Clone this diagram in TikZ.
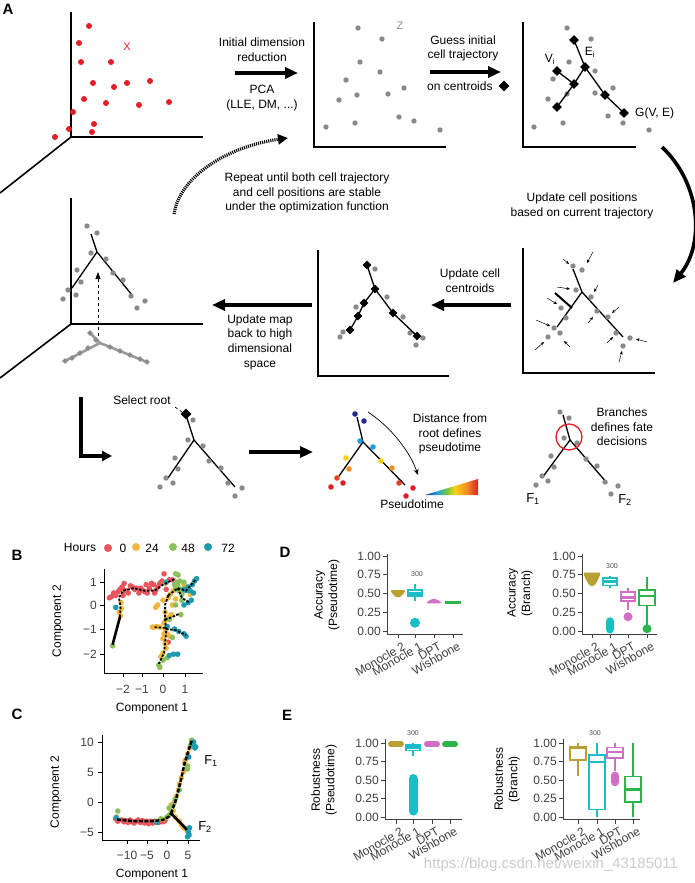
\documentclass[tikz,border=0pt]{standalone}
\usepackage{fontspec}
\setmainfont{Liberation Sans}
\usetikzlibrary{arrows.meta,shapes.geometric}
\definecolor{dotgray}{RGB}{138,138,138}
\definecolor{cred}{RGB}{230,30,40}
\definecolor{h0}{RGB}{232,85,90}
\definecolor{h24}{RGB}{243,182,60}
\definecolor{h48}{RGB}{140,192,90}
\definecolor{h72}{RGB}{30,155,175}
\definecolor{cgold}{RGB}{185,160,50}
\definecolor{cteal}{RGB}{25,190,200}
\definecolor{cpink}{RGB}{210,110,195}
\definecolor{cgreen}{RGB}{45,180,75}
\definecolor{pnavy}{RGB}{40,40,140}
\definecolor{pcyan}{RGB}{30,160,220}
\definecolor{pyel}{RGB}{245,210,20}
\definecolor{pora}{RGB}{243,145,35}
\definecolor{pred}{RGB}{225,30,40}
\definecolor{pgrn}{RGB}{120,200,60}
\pgfdeclarehorizontalshading{rainbowsh}{100bp}{color(0bp)=(pnavy); color(25bp)=(pnavy); color(36bp)=(pcyan); color(46bp)=(pgrn); color(53bp)=(pyel); color(64bp)=(pora); color(75bp)=(pred); color(100bp)=(pred)}
\newcommand\mybox[8]{% x, wlo, q1, med, q3, whi, color, halfwidth
  \draw[#7, line width=1.5pt] (#1,#2)--(#1,#3) (#1,#5)--(#1,#6);
  \draw[#7, line width=1.5pt, fill=white] ({#1-#8},#3) rectangle ({#1+#8},#5);
  \draw[#7, line width=2.5pt] ({#1-#8},#4)--({#1+#8},#4);}
\tikzset{
  axis/.style={line width=1.6pt, black},
  treeln/.style={line width=1.3pt, black},
  bigarrow/.style={line width=3.6pt, -{Triangle[length=13pt,width=11pt]}},
  dia/.style={diamond, fill=black, inner sep=0pt, minimum size=10pt},
  smalldia/.style={diamond, fill=black, inner sep=0pt, minimum size=9pt},
  lbl/.style={font=\fontsize{12}{14.6}\selectfont, align=center, inner sep=0pt},
  panel/.style={font=\fontsize{15}{15}\selectfont\bfseries, inner sep=0pt},
  tick/.style={font=\fontsize{12}{12}\selectfont, text=black!75, inner sep=0pt},
  axl/.style={line width=0.8pt, black!75},
  bpath/.style={black, line width=1.8pt, dash pattern=on 2.5pt off 1.5pt},
  cpath/.style={black, line width=2.5pt, dash pattern=on 4pt off 1.5pt},
  sarr/.style={line width=0.5pt, -{Stealth[length=3.5pt,width=3pt]}},
  xlab/.style={font=\fontsize{12}{12}\selectfont, text=black!75, inner sep=0pt, rotate=30, anchor=north east}
}
\begin{document}
\begin{tikzpicture}[x=1pt,y=-1pt]
\useasboundingbox[fill=white] (0,0) rectangle (694,883);

% ================= PANEL A =================
\node[panel] (lA) at (8,9) {A};

% --- plot 1: high-dimensional ---
\draw[axis] (71,12)--(71,137)--(203,137);
\draw[axis] (71,137)--(0,193);
\foreach \p in {(89,26),(79,43),(81,62),(111,62),(93,83),(114,87),(127,83),(150,81),(84,99),(106,103),(139,105),(169,102),(73,112),(94,124),(69,129),(92,132),(55,137)}
  \fill[cred] \p circle (3pt);
\node[font=\fontsize{11}{11}\selectfont, text=cred, inner sep=0pt] (xl) at (127,47) {X};

% arrow 1
\coordinate (a1s) at (235,73); \coordinate (a1e) at (298,73);
\draw[bigarrow] (a1s)--(a1e);
\node[lbl] (t1) at (262,49.5) {Initial dimension\\reduction};
\node[lbl] (t2) at (262,98) {PCA\\(LLE, DM, ...)};

% --- plot 2 ---
\draw[axis] (314,22)--(314,147)--(446,147);
\foreach \p in {(358,28),(382,39),(360,62),(380,72),(346,80),(357,95),(388,94),(404,88),(339,100),(326,127),(355,123),(399,117),(414,121),(440,130)}
  \fill[dotgray] \p circle (2.7pt);
\node[font=\fontsize{11}{11}\selectfont, text=black!45, inner sep=0pt] (zl) at (400,26) {Z};

% arrow 2
\coordinate (a2s) at (430,72); \coordinate (a2e) at (501,72);
\draw[bigarrow] (a2s)--(a2e);
\node[lbl] (t3) at (463,48.5) {Guess initial\\cell trajectory};
\node[lbl, anchor=west] (t4) at (427,86) {on centroids};
\node[dia, minimum size=11pt] (cdia) at (504,86) {};

% --- plot 3 ---
\draw[axis] (523,22)--(523,147)--(636,147);
\foreach \p in {(567,28),(591,39),(569,62),(595,71),(553,79),(613,88),(595,93),(548,99),(567,94),(608,116),(563,123),(623,123),(534,127),(649,130)}
  \fill[dotgray] \p circle (2.7pt);
\coordinate (v1) at (574,40); \coordinate (v2) at (585,67); \coordinate (v3) at (557,71);
\coordinate (v4) at (574,84); \coordinate (v5) at (605,95); \coordinate (v6) at (557,107);
\coordinate (v7) at (624,113);
\draw[treeln] (v1)--(v2)--(v5)--(v7) (v2)--(v4)--(v6) (v3)--(v4);
\foreach \n in {v1,v2,v3,v4,v5,v6,v7} \node[dia] at (\n) {};
\node[lbl] (vi) at (550,59) {V\textsubscript{i}};
\node[lbl] (ei) at (590,52) {E\textsubscript{i}};
\node[lbl, anchor=west] (gve) at (635,113) {G(V, E)};

% big curved arrow right
\coordinate (c1s) at (662,147); \coordinate (c1e) at (673,283);
\draw[bigarrow] (c1s) .. controls (702,185) and (704,245) .. (c1e);

% dotted repeat arrow
\coordinate (d1s) at (174,214); \coordinate (d1e) at (288,138);
\draw[line width=3.2pt, dash pattern=on 1.1pt off 1.0pt, -{Triangle[length=10pt,width=10pt]}] (d1s) .. controls (180,175) and (230,146) .. (d1e);
\node[lbl] (t5) at (307,193) {Repeat until both cell trajectory\\and cell positions are stable\\under the optimization function};

\node[lbl] (t6) at (582,206) {Update cell positions\\based on current trajectory};

% --- plot 4 (update positions) ---
\draw[axis] (523,248)--(523,373)--(655,373);
\draw[treeln] (573,269)--(582,292)--(557,327) (582,292)--(623,337);
\draw[line width=2pt] (555,293)--(572,308);
\foreach \p in {(573,266),(582,270),(576,290),(591,297),(561,308),(566,318),(597,311),(608,317),(554,328),(560,333),(548,337),(616,333),(630,338),(623,346)}
  \fill[dotgray] \p circle (2.7pt);
\draw[sarr] (563,259)--(569,264);
\draw[sarr] (593,252)--(587,263);
\draw[sarr] (557,287)--(570,289);
\draw[sarr] (598,285)--(594,292);
\draw[sarr] (547,298)--(557,304);
\draw[sarr] (536,320)--(550,326);
\draw[sarr] (588,323)--(593,317);
\draw[sarr] (619,307)--(612,313);
\draw[sarr] (535,350)--(544,342);
\draw[sarr] (570,347)--(564,341);
\draw[sarr] (607,343)--(613,337);
\draw[sarr] (647,342)--(636,339);
\draw[sarr] (619,362)--(622,351);

% arrow update centroids
\coordinate (a3s) at (511,305); \coordinate (a3e) at (431,305);
\draw[bigarrow] (a3s)--(a3e);
\node[lbl] (t7) at (470,280.5) {Update cell\\centroids};

% --- plot 5 (centroids) ---
\draw[axis] (318,250)--(318,376)--(449,376);
\coordinate (w1) at (367,265); \coordinate (w2) at (375,289); \coordinate (w3) at (364,303);
\coordinate (w4) at (358,316); \coordinate (w5) at (350,330); \coordinate (w6) at (393,313);
\coordinate (w7) at (417,336);
\foreach \p in {(375,269),(387,297),(356,307),(403,317),(343,332),(340,337),(410,333),(423,338),(416,345)}
  \fill[dotgray] \p circle (2.7pt);
\draw[treeln] (w1)--(w2)--(w3)--(w4)--(w5) (w2)--(w6)--(w7);
\foreach \n in {w1,w2,w3,w4,w5,w6,w7} \node[smalldia] at (\n) {};

% arrow update map
\coordinate (a4s) at (312,305); \coordinate (a4e) at (212,305);
\draw[bigarrow] (a4s)--(a4e);
\node[lbl] (t8) at (260,342) {Update map\\back to high\\dimensional\\space};

% --- plot 6 (3D back-mapped) ---
\draw[axis] (71,198)--(71,324)--(203,324);
\draw[axis] (71,324)--(0,378);
% shadow
\draw[line width=2.6pt, black!40, line cap=round] (90,333)--(100,343)--(65,361) (100,343)--(147,362);
\foreach \p in {(90,333),(96,340),(88,348),(80,353),(72,358),(110,347),(120,351),(130,355),(140,359),(147,362),(65,361)}
  \node[diamond, fill=black!45, inner sep=0pt, minimum size=6pt] at \p {};
\draw[treeln] (91,234)--(97,252)--(72,288) (97,252)--(132,295);
\foreach \p in {(87,226),(97,233),(91,253),(106,259),(77,270),(113,273),(123,280),(81,282),(68,290),(76,295),(63,299),(131,296),(145,301),(137,308)}
  \fill[dotgray] \p circle (2.7pt);
\coordinate (dvs) at (98,336); \coordinate (dve) at (98,272);
\draw[dashed, line width=0.7pt, -{Triangle[length=7pt,width=5pt]}] (dvs)--(dve);

% --- bottom row ---
\coordinate (la1) at (81,397); \coordinate (la2) at (81,456); \coordinate (la3) at (112,456);
\draw[line width=3.4pt, -{Triangle[length=10pt,width=10pt]}] (la1)--(la2)--(la3);

\node[lbl] (sr) at (142,400) {Select root};
\draw[dashed, line width=0.7pt] (175,407)--(182,412);
\draw[treeln] (186,415)--(194,440)--(168,478) (194,440)--(235,487);
\foreach \p in {(193,420),(188,440),(203,446),(175,458),(209,461),(178,469),(221,468),(166,478),(173,483),(160,487),(228,483),(242,488),(235,496)}
  \fill[dotgray] \p circle (2.7pt);
\node[dia, minimum size=11pt] (root) at (186,414) {};

\coordinate (a5s) at (249,452); \coordinate (a5e) at (313,452);
\draw[bigarrow] (a5s)--(a5e);

% pseudotime tree
\draw[treeln] (357,417)--(363,442)--(339,476) (363,442)--(405,485);
\foreach \p in {(355,414),(364,421)} \fill[pnavy] \p circle (2.8pt);
\foreach \p in {(360,441),(373,447)} \fill[pcyan] \p circle (2.8pt);
\foreach \p in {(346,458),(381,461)} \fill[pyel] \p circle (2.8pt);
\foreach \p in {(349,469),(392,468)} \fill[pora] \p circle (2.8pt);
\foreach \p in {(337,478),(399,483)} \fill[pred!70!pora] \p circle (2.8pt);
\foreach \p in {(343,483),(331,487),(413,488),(406,496)} \fill[pred] \p circle (2.8pt);
\coordinate (pas) at (368,412); \coordinate (pae) at (418,475);
\draw[line width=0.7pt, -{Stealth[length=6pt,width=5pt]}] (pas) .. controls (392,428) and (410,452) .. (pae);
\node[lbl] (t9) at (450,434) {Distance from\\root defines\\pseudotime};
\shade[shading=rainbowsh] (425,495)--(478,479)--(478,495)--cycle;
\node[lbl] (t10) at (412,504) {Pseudotime};

% branches panel
\draw[treeln] (563,415)--(570,440)--(542,478) (570,440)--(607,483);
\foreach \p in {(560,412),(569,418),(564,438),(577,443),(551,456),(586,459),(554,467),(597,466),(542,476),(548,481),(536,485),(605,482),(618,486),(611,494)}
  \fill[dotgray] \p circle (2.7pt);
\draw[cred, line width=1.3pt] (569,437) circle (13pt);
\node[lbl] (t11) at (622,427) {Branches\\defines fate\\decisions};
\node[lbl, font=\fontsize{13}{13}\selectfont] (f1) at (533,499) {F\textsubscript{1}};
\node[lbl, font=\fontsize{13}{13}\selectfont] (f2) at (625,500) {F\textsubscript{2}};

% ================= PANEL B =================
\node[panel] (lB) at (17,555) {B};
\node[lbl] (hrs) at (80,547) {Hours};
\fill[h0] (108,548) circle (4pt); \node[lbl] (l0) at (123,548) {0};
\fill[h24] (136,547) circle (4pt); \node[lbl] (l24) at (152,548) {24};
\fill[h48] (173,547) circle (4pt); \node[lbl] (l48) at (188,548) {48};
\fill[h72] (208,547) circle (4pt); \node[lbl] (l72) at (228,548) {72};

\draw[line width=1pt] (104,569)--(104,673)--(203,673);
\foreach \yy in {582,605,629,654} \draw[line width=0.8pt] (100,\yy)--(104,\yy);
\node[tick, anchor=east] at (97,582) {1};
\node[tick, anchor=east] at (97,605) {0};
\node[tick, anchor=east] at (97,629) {−1};
\node[tick, anchor=east] at (97,654) {−2};
\foreach \xx in {123,142,163,185} \draw[line width=0.8pt] (\xx,673)--(\xx,677);
\node[tick] at (123,689) {−2};
\node[tick] at (142,689) {−1};
\node[tick] at (163,689) {0};
\node[tick] at (185,689) {1};
\node[lbl, rotate=90] (bc2) at (58,621) {Component 2};
\node[lbl] (bc1) at (152,709) {Component 1};

\begin{scope}[shift={(163,605)}, x=21pt, y=24pt]
\foreach \p in {(-2.55,0.3),(-2.45,0.35),(-2.35,0.5),(-2.25,0.4),(-2.15,0.55),(-2.05,0.65),(-1.95,0.75),(-1.85,0.9),(-1.8,0.6),(-1.65,0.5),(-1.55,0.8),(-1.45,0.75),(-1.35,0.65),(-1.25,0.7),(-1.15,0.5),(-1.05,0.7),(-0.95,0.6),(-0.85,0.55),(-0.75,0.5),(-0.65,0.7),(-0.55,0.9),(-0.45,0.85),(-0.35,0.6),(-0.25,0.75),(-0.15,0.9),(-0.05,1.0),(0.05,1.3),(0.15,0.65),(0.3,1.05),(0.25,-1.55),(0.45,1.05),(-0.4,0.5),(-1.9,0.4),(-0.8,0.85)}
  \fill[h0] \p circle (2.8pt);
\foreach \p in {(-2.0,0.1),(-1.98,-0.15),(-2.03,-0.45),(-2.08,-0.3),(-0.35,-0.1),(-0.25,0.0),(0.0,0.2),(0.1,-0.3),(0.15,-0.6),(0.05,-0.75),(0.2,-0.9),(-0.5,-0.92),(-0.4,-0.92),(-0.3,-0.9),(-0.15,-0.92),(0.1,-1.0),(0.2,-1.2),(0.0,-1.4),(0.1,-1.6),(0.15,-1.8),(0.0,-2.0),(-0.1,-2.15),(0.3,-0.5),(0.4,-0.4),(0.5,0.6),(0.35,0.45),(0.25,0.3),(0.6,0.25),(1.0,0.85),(1.3,0.45),(0.1,0.9),(0.05,-1.2),(0.3,-1.3),(0.45,0.0)}
  \fill[h24] \p circle (2.8pt);
\foreach \p in {(-2.4,-1.7),(0.6,1.3),(0.72,1.25),(0.8,1.0),(0.7,0.8),(0.6,0.7),(0.85,0.65),(0.9,0.45),(1.0,0.95),(1.1,0.7),(0.9,0.2),(0.6,0.0),(0.85,-0.4),(0.3,-0.6),(0.45,-1.35),(0.2,-2.2),(0.0,-2.3),(-0.2,-2.5),(-0.15,-2.6),(0.65,0.95),(0.55,0.85),(0.75,0.6)}
  \fill[h48] \p circle (2.8pt);
\foreach \p in {(-2.25,-0.1),(0.15,0.95),(1.1,0.6),(1.2,0.75),(1.3,0.6),(1.4,0.85),(1.5,1.0),(1.6,1.1),(1.35,0.2),(1.2,0.1),(1.0,0.0),(0.2,-0.9),(0.55,-1.0),(0.75,-1.1),(1.0,-1.2),(1.1,-1.3),(0.3,-2.1),(0.5,-2.05),(0.7,-2.05),(1.45,0.5),(1.0,0.65)}
  \fill[h72] \p circle (2.8pt);
\draw[line width=2.6pt] (-2.4,-1.65)--(-2.05,-0.5);
\draw[bpath] (-2.05,-0.5)--(-2.02,-0.05)--(-2.1,0.3)--(-1.9,0.6)--(-1.4,0.7)--(-0.9,0.6)--(-0.4,0.6)--(0.0,0.85)--(0.35,1.0)--(0.6,1.1);
\draw[bpath] (0.25,0.4)--(0.1,0.0)--(0.1,-0.6)--(0.15,-1.1)--(0.1,-1.6)--(0.05,-2.0)--(-0.2,-2.45);
\draw[bpath] (0.25,0.4)--(0.7,0.7)--(1.1,0.6)--(1.55,1.05);
\draw[bpath] (0.7,0.7)--(0.9,0.3)--(1.25,0.1);
\draw[bpath] (0.1,-0.6)--(0.45,-0.5)--(0.8,-0.35);
\draw[bpath] (0.15,-1.0)--(0.6,-1.05)--(1.1,-1.25);
\draw[bpath] (0.1,-0.95)--(-0.45,-0.92);
\end{scope}

% ================= PANEL C =================
\node[panel] (lC) at (17,714) {C};
\draw[line width=1pt] (102,735)--(102,840)--(200,840);
\foreach \yy in {742,772,802,832} \draw[line width=0.8pt] (98,\yy)--(102,\yy);
\node[tick, anchor=east] at (94,742) {10};
\node[tick, anchor=east] at (94,772) {5};
\node[tick, anchor=east] at (94,802) {0};
\node[tick, anchor=east] at (94,832) {−5};
\foreach \xx in {127,147,167,188} \draw[line width=0.8pt] (\xx,840)--(\xx,844);
\node[tick] at (127,855) {−10};
\node[tick] at (147,855) {−5};
\node[tick] at (167,855) {0};
\node[tick] at (188,855) {5};
\node[lbl, rotate=90] (cc2) at (56,792) {Component 2};
\node[lbl] (cc1) at (152,875) {Component 1};
\node[lbl, font=\fontsize{13}{13}\selectfont] (cf1) at (211,761) {F\textsubscript{1}};
\node[lbl, font=\fontsize{13}{13}\selectfont] (cf2) at (205,827) {F\textsubscript{2}};

\begin{scope}[shift={(167,802)}, x=4.1pt, y=6pt]
\foreach \p in {(-12.5,-2.8),(-12,-3.2),(-11,-3),(-10.5,-3.3),(-10,-3.1),(-9.5,-3.4),(-9,-3),(-8.5,-3.3),(-8,-3.5),(-7.5,-3.2),(-7,-3),(-6.5,-3.4),(-6,-3.1),(-5.5,-3.5),(-5,-3.2),(-4.5,-3.6),(-4,-3.2),(-3.5,-3.5),(-3,-3.2),(-2,-3.4),(-1.5,-3.0),(-1,-3.3),(-0.5,-3.1)}
  \fill[h0] \p circle (2.8pt);
\foreach \p in {(-12.3,-2.5),(-2.5,-3.2),(-1,-2.9),(1,-0.5),(1.8,0),(2.3,1),(2.8,2),(3,3),(3.5,4),(4,5),(4.3,6.5),(4.5,7),(5,8),(5.5,9),(6,10),(2,-2.5),(3,-3.2),(3.5,-3.8),(4,-4.2),(4.5,-4.5),(5,-4.8),(1.5,-1.5)}
  \fill[h24] \p circle (2.8pt);
\foreach \p in {(-12,-1.5),(-1.5,-2.8),(0,-2.5),(0.5,-2.2),(1,-1.8),(0.5,-1.0),(1.5,-0.5),(2,0.5),(3,2),(5,6),(5.3,7.5),(5.8,9.5),(6,10.3),(6.5,9.8),(5,5.5)}
  \fill[h48] \p circle (2.8pt);
\foreach \p in {(-12.4,-2.6),(-2.5,-3.4),(5.3,7.5),(6.2,9.5),(6.5,10),(7,9.2),(6.8,9),(5,-4.5),(5.2,-5),(5.4,-5.5),(5.0,-5.8),(5.5,-4.3)}
  \fill[h72] \p circle (2.8pt);
\draw[cpath] (-12.2,-2.9)--(-8,-3.2)--(-4,-3.2)--(-1,-3.0)--(0.5,-2.4)--(1,-1.9);
\draw[cpath] (1,-1.9)--(2,0)--(2.8,2)--(3.5,4)--(4.3,6.5)--(5,8)--(6,10.2);
\draw[line width=2.6pt] (1,-1.9)--(3,-3.3)--(4.8,-4.6);
\end{scope}

% ================= PANEL D =================
\node[panel] (lD) at (285,552) {D};
% D1 axes
\draw[axl] (387,554)--(387,635) (387,634)--(463,634);
\foreach \yy in {556,574.75,593.5,612.25,631} \draw[axl] (383,\yy)--(387,\yy);
\foreach \xx in {398,415,434,453} \draw[axl] (\xx,634)--(\xx,638);
\node[tick, anchor=east] at (381,556) {1.00};
\node[tick, anchor=east] at (381,574.75) {0.75};
\node[tick, anchor=east] at (381,593.5) {0.50};
\node[tick, anchor=east] at (381,612.25) {0.25};
\node[tick, anchor=east] at (381,631) {0.00};
\node[lbl, rotate=90] (d1y) at (327,595) {Accuracy\\(Pseudotime)};
\node[xlab] at (402,641) {Monocle 2};
\node[xlab] at (419,641) {Monocle 1};
\node[xlab] at (438,641) {DPT};
\node[xlab] at (457,641) {Wishbone};
\node[font=\fontsize{7}{7}\selectfont, text=black!70, inner sep=0pt] (d1n) at (417,574) {300};
% D2 axes
\draw[axl] (582,554)--(582,635) (582,634)--(657,634);
\foreach \yy in {556,574.75,593.5,612.25,631} \draw[axl] (578,\yy)--(582,\yy);
\foreach \xx in {592,610,628,647} \draw[axl] (\xx,634)--(\xx,638);
\node[tick, anchor=east] at (576,556) {1.00};
\node[tick, anchor=east] at (576,574.75) {0.75};
\node[tick, anchor=east] at (576,593.5) {0.50};
\node[tick, anchor=east] at (576,612.25) {0.25};
\node[tick, anchor=east] at (576,631) {0.00};
\node[lbl, rotate=90] (d2y) at (520,593) {Accuracy\\(Branch)};
\node[xlab] at (596,641) {Monocle 2};
\node[xlab] at (614,641) {Monocle 1};
\node[xlab] at (632,641) {DPT};
\node[xlab] at (651,641) {Wishbone};
\node[font=\fontsize{7}{7}\selectfont, text=black!70, inner sep=0pt] (d2n) at (612,566) {300};

\begin{scope}[shift={(0,631)}, x=1pt, y=75pt]
% D1
\fill[cgold, rounded corners=2pt] (390,0.545)--(406,0.545)--(402,0.47)--(398,0.44)--(394,0.47)--cycle;
\mybox{415}{0.40}{0.47}{0.50}{0.55}{0.63}{cteal}{7}
\fill[cteal] (415,0.11) circle (5pt);
\fill[cpink, rounded corners=2pt] (426,0.37)--(442,0.37)--(440,0.40)--(434,0.435)--(428,0.40)--cycle;
\draw[cgreen, line width=3pt] (445,0.38)--(461,0.38);
% D2
\fill[cgold, rounded corners=2pt] (583,0.78)--(601,0.78)--(598,0.68)--(594,0.595)--(590,0.595)--(586,0.68)--cycle;
\mybox{610}{0.58}{0.61}{0.66}{0.71}{0.73}{cteal}{7}
\draw[cteal, line width=8pt, line cap=round] (610,0.02)--(610,0.13);
\mybox{628}{0.28}{0.40}{0.45}{0.52}{0.57}{cpink}{7}
\fill[cpink] (628,0.19) circle (4.5pt);
\mybox{647}{0.03}{0.34}{0.47}{0.55}{0.72}{cgreen}{8}
\fill[cgreen] (647,0.03) circle (4.5pt);
\end{scope}

% ================= PANEL E =================
\node[panel] (lE) at (287,715) {E};
% E1 axes
\draw[axl] (385,739)--(385,820) (385,819.5)--(462,819.5);
\foreach \yy in {743,761.5,780,798.5,817} \draw[axl] (381,\yy)--(385,\yy);
\foreach \xx in {396,413,432,450} \draw[axl] (\xx,819.5)--(\xx,823.5);
\node[tick, anchor=east] at (379,743) {1.00};
\node[tick, anchor=east] at (379,761.5) {0.75};
\node[tick, anchor=east] at (379,780) {0.50};
\node[tick, anchor=east] at (379,798.5) {0.25};
\node[tick, anchor=east] at (379,817) {0.00};
\node[lbl, rotate=90] (e1y) at (324,780) {Robustness\\(Pseudotime)};
\node[xlab] at (400,826) {Monocle 2};
\node[xlab] at (417,826) {Monocle 1};
\node[xlab] at (436,826) {DPT};
\node[xlab] at (454,826) {Wishbone};
\node[font=\fontsize{7}{7}\selectfont, text=black!70, inner sep=0pt] (e1n) at (413,733) {300};
% E2 axes
\draw[axl] (563,739)--(563,820) (563,819.5)--(640,819.5);
\foreach \yy in {743,761.5,780,798.5,817} \draw[axl] (559,\yy)--(563,\yy);
\foreach \xx in {578,597,615,633} \draw[axl] (\xx,819.5)--(\xx,823.5);
\node[tick, anchor=east] at (557,743) {1.00};
\node[tick, anchor=east] at (557,761.5) {0.75};
\node[tick, anchor=east] at (557,780) {0.50};
\node[tick, anchor=east] at (557,798.5) {0.25};
\node[tick, anchor=east] at (557,817) {0.00};
\node[lbl, rotate=90] (e2y) at (507,779) {Robustness\\(Branch)};
\node[xlab] at (582,826) {Monocle 2};
\node[xlab] at (601,826) {Monocle 1};
\node[xlab] at (619,826) {DPT};
\node[xlab] at (637,826) {Wishbone};
\node[font=\fontsize{7}{7}\selectfont, text=black!70, inner sep=0pt] (e2n) at (595,733) {300};

\begin{scope}[shift={(0,817)}, x=1pt, y=74pt]
% E1
\draw[cgold, line width=6pt, line cap=round] (391,0.985)--(401,0.985);
\mybox{413}{0.82}{0.90}{0.94}{0.97}{1.0}{cteal}{7}
\draw[cteal, line width=9pt, line cap=round] (413,0.08)--(413,0.52);
\draw[cpink, line width=6pt, line cap=round] (427,0.985)--(437,0.985);
\draw[cgreen, line width=6pt, line cap=round] (445,0.98)--(455,0.98);
% E2
\mybox{578}{0.55}{0.77}{0.93}{0.95}{1.0}{cgold}{8}
\mybox{597}{0.0}{0.10}{0.74}{0.84}{1.0}{cteal}{8}
\mybox{615}{0.62}{0.80}{0.88}{0.94}{1.0}{cpink}{8}
\draw[cpink, line width=8pt, line cap=round] (615,0.47)--(615,0.56);
\mybox{633}{0.0}{0.20}{0.37}{0.55}{1.0}{cgreen}{8}
\end{scope}

% watermark
\node[font=\fontsize{15}{15}\selectfont, text=black!20, inner sep=0pt] (wm) at (551,865) {https://blog.csdn.net/weixin\_43185011};
\end{tikzpicture}
\end{document}
